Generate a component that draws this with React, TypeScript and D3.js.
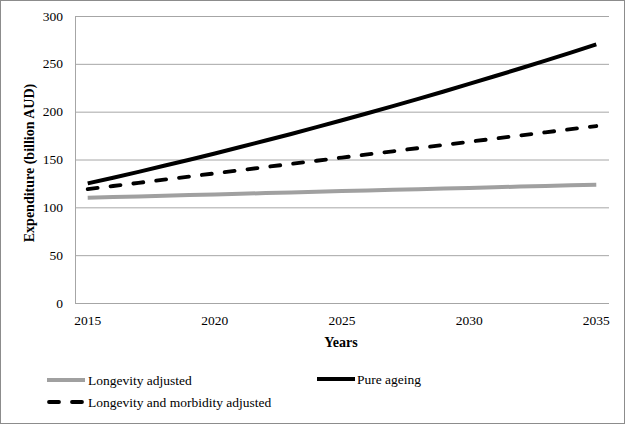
import React from "react";
import * as d3 from "d3";

const years = d3.range(2015, 2036).map(String);
const tickYears = ["2015", "2020", "2025", "2030", "2035"];
const yTicks = [0, 50, 100, 150, 200, 250, 300];

const longevityAdjusted = [110, 110.7, 111.4, 112.1, 112.8, 113.5, 114.2, 114.9, 115.6, 116.3, 117, 117.7, 118.3, 119, 119.7, 120.3, 121, 121.7, 122.3, 123, 123.6];
const pureAgeing = [125, 131, 137.1, 143.4, 149.8, 156.3, 163, 169.8, 176.7, 183.8, 191, 198.3, 205.8, 213.4, 221.1, 229, 237, 245.1, 253.4, 261.8, 270.3];
const longevityMorbidity = [119, 122.3, 125.6, 128.9, 132.2, 135.5, 138.8, 142.1, 145.4, 148.7, 152, 155.3, 158.6, 161.9, 165.2, 168.5, 171.8, 175.1, 178.4, 181.7, 185];

const W = 625;
const H = 424;
const left = 75;
const right = 609;
const top = 16;
const bottom = 303;
const font = "'Liberation Serif', 'Times New Roman', Times, serif";

export default function App() {
  const x = d3.scaleBand<string>().domain(years).range([left, right]);
  const y = d3.scaleLinear().domain([0, 300]).range([bottom, top]);
  const cx = (yr: string) => (x(yr) as number) + x.bandwidth() / 2;
  const line = d3
    .line<number>()
    .x((_, i) => cx(years[i]))
    .y((v) => y(v));
  const ts = { fontFamily: font, fontSize: "13.5px" } as React.CSSProperties;
  const tb = { fontFamily: font, fontSize: "14px", fontWeight: "bold" } as React.CSSProperties;

  return (
    <svg
      width={W}
      height={H}
      style={{ position: "absolute", left: 0, top: 0, fontFamily: font }}
    >
      <rect x={0.5} y={0.5} width={W - 1} height={H - 1} fill="#fff" stroke="#8c8c8c" />
      {yTicks.map((t) => (
        <g key={t}>
          <line x1={left} x2={right} y1={y(t) + 0.5} y2={y(t) + 0.5} stroke="#a6a6a6" strokeWidth={1} />
          <text x={63} y={y(t) + 4.5} style={ts} textAnchor="end" fill="#000">
            {t}
          </text>
        </g>
      ))}
      <line x1={left + 0.5} x2={left + 0.5} y1={top} y2={bottom} stroke="#a6a6a6" strokeWidth={1} />
      {tickYears.map((t) => (
        <text key={t} x={cx(t)} y={325} style={ts} textAnchor="middle" fill="#000">
          {t}
        </text>
      ))}
      <text x={341} y={347} style={tb} textAnchor="middle">
        Years
      </text>
      <text
        transform={`translate(34, 163) rotate(-90)`}
        style={tb}
        textAnchor="middle"
      >
        Expenditure (billion AUD)
      </text>

      <path d={line(longevityAdjusted) || ""} fill="none" stroke="#a0a0a0" strokeWidth={4} />
      <path
        d={line(longevityMorbidity) || ""}
        fill="none"
        stroke="#000"
        strokeWidth={3.8}
        strokeDasharray="10 13"
        strokeLinecap="round"
      />
      <path d={line(pureAgeing) || ""} fill="none" stroke="#000" strokeWidth={4} />

      <g>
        <line x1={47} x2={85} y1={380} y2={380} stroke="#a0a0a0" strokeWidth={4} />
        <text x={88} y={384.5} style={ts}>Longevity adjusted</text>
        <line x1={317} x2={355} y1={379} y2={379} stroke="#000" strokeWidth={4} />
        <text x={357} y={383.5} style={ts}>Pure ageing</text>
        <line x1={49} x2={85} y1={402} y2={402} stroke="#000" strokeWidth={3.8} strokeDasharray="10 13" strokeLinecap="round" />
        <text x={88} y={406.5} style={ts}>Longevity and morbidity adjusted</text>
      </g>
    </svg>
  );
}
